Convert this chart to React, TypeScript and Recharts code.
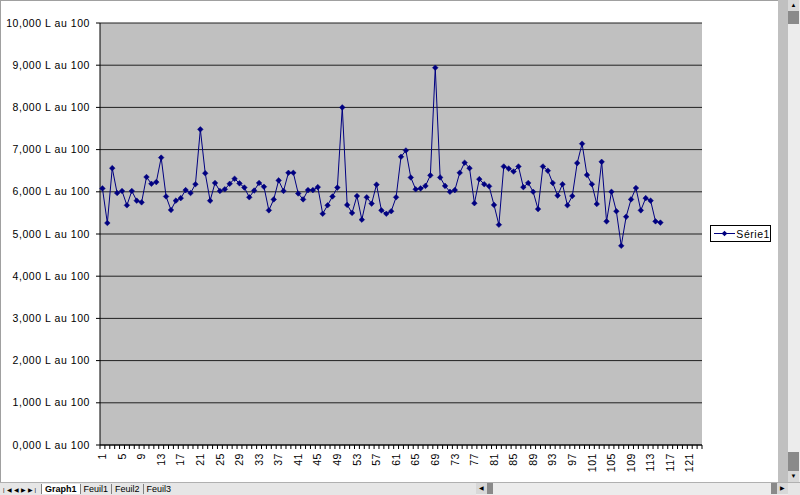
import React from "react";
import { LineChart, Line, XAxis, YAxis, CartesianGrid, Legend } from "recharts";

// consumption per row (L au 100 x 1000)
const SERIES_NAME = "Série1";
const VALUES = [
  6080, 5260, 6560, 5970, 6020, 5680, 6020, 5790, 5750, 6350,
  6190, 6230, 6810, 5890, 5570, 5790, 5850, 6040, 5970, 6180,
  7480, 6440, 5790, 6210, 6020, 6060, 6190, 6310, 6200, 6100,
  5870, 6030, 6210, 6120, 5560, 5820, 6270, 6020, 6450, 6450,
  5960, 5820, 6040, 6040, 6110, 5480, 5680, 5890, 6100, 8000,
  5690, 5500, 5900, 5340, 5870, 5720, 6170, 5560, 5480, 5540,
  5870, 6830, 6980, 6340, 6060, 6080, 6140, 6390, 8940, 6340,
  6140, 6000, 6040, 6450, 6690, 6560, 5730, 6300, 6180, 6130,
  5690, 5220, 6600, 6550, 6480, 6600, 6110, 6210, 6000, 5590,
  6600, 6500, 6210, 5910, 6180, 5680, 5900, 6680, 7140, 6400,
  6180, 5710, 6710, 5300, 6000, 5540, 4720, 5410, 5820, 6090,
  5560, 5850, 5790, 5300, 5270,
];
const CATEGORY_COUNT = 123;
const CATEGORIES = Array.from({ length: CATEGORY_COUNT }, (_, i) => i + 1);
const Y_TICKS = [0, 1000, 2000, 3000, 4000, 5000, 6000, 7000, 8000, 9000, 10000];
const SHEET_TABS = ["Graph1", "Feuil1", "Feuil2", "Feuil3"];

const data = CATEGORIES.map((c, i) => ({
  cat: c,
  value: i < VALUES.length ? VALUES[i] : null,
}));

const FONT = "'Liberation Sans', Arial, sans-serif";
const NAVY = "#000080";
const LABEL_SIZE = 10.5;
const LABEL_SPACING = 0.55;

const fmtY = (v: number) => (v / 1000).toFixed(3).replace(".", ",") + " L au 100";

const Diamond = (props: any) => {
  const { cx, cy, index } = props;
  if (cx == null || cy == null) return <g key={`d-${index}`} />;
  const r = 2.8;
  return (
    <polygon
      key={`d-${index}`}
      points={`${cx},${cy - r} ${cx + r},${cy} ${cx},${cy + r} ${cx - r},${cy}`}
      fill={NAVY}
      stroke={NAVY}
      strokeWidth={0.5}
    />
  );
};

const YTick = (props: any) => {
  const { x, y, payload } = props;
  return (
    <text
      x={x}
      y={y}
      dy="0.35em"
      textAnchor="end"
      fontSize={LABEL_SIZE}
      letterSpacing={LABEL_SPACING}
      fontFamily={FONT}
      fill="#000"
    >
      {fmtY(payload.value)}
    </text>
  );
};

const CatTick = (props: any) => {
  const { x, y, payload, index } = props;
  const half = payload?.offset ?? 602 / CATEGORY_COUNT / 2;
  const showLabel = index % 4 === 0;
  return (
    <g>
      <line x1={x - half} x2={x - half} y1={y} y2={y + 4} stroke="#000" />
      {index === CATEGORY_COUNT - 1 && (
        <line x1={x + half} x2={x + half} y1={y} y2={y + 4} stroke="#000" />
      )}
      {showLabel && (
        <text
          x={x}
          y={y + 8}
          transform={`rotate(-90, ${x}, ${y + 8})`}
          textAnchor="end"
          dy="0.35em"
          fontSize={LABEL_SIZE}
          letterSpacing={LABEL_SPACING}
          fontFamily={FONT}
          fill="#000"
        >
          {payload.value}
        </text>
      )}
    </g>
  );
};

const LegendBox = () => (
  <div
    style={{
      width: 59,
      height: 15,
      border: "1px solid #000",
      background: "#fff",
      display: "flex",
      alignItems: "center",
      fontFamily: FONT,
      fontSize: LABEL_SIZE,
      letterSpacing: LABEL_SPACING,
      color: "#000",
    }}
  >
    <svg width={27} height={15}>
      <line x1={3} x2={24} y1={7.5} y2={7.5} stroke={NAVY} />
      <polygon points="13.5,4.7 16.3,7.5 13.5,10.3 10.7,7.5" fill={NAVY} />
    </svg>
    <span>{SERIES_NAME}</span>
  </div>
);

const Arrow = ({ dir }: { dir: string }) => (
  <div
    style={{
      width: 11,
      height: 11,
      background: "#d8d8d8",
      fontSize: 6,
      lineHeight: "11px",
      textAlign: "center",
      color: "#000",
      fontFamily: FONT,
    }}
  >
    {dir}
  </div>
);

export default function App() {
  return (
    <div
      style={{
        position: "absolute",
        left: 0,
        top: 0,
        width: 800,
        height: 495,
        background: "#fff",
        overflow: "hidden",
        fontFamily: FONT,
      }}
    >
      <div style={{ position: "absolute", left: 0, top: 0, width: 778, height: 482, borderTop: "1px solid #a0a0a0", borderLeft: "1px solid #a0a0a0", boxSizing: "border-box" }} />
      <div style={{ position: "absolute", left: 0, top: 0 }}>
        <LineChart width={778} height={482} data={data} margin={{ top: 23, right: 76, bottom: 0, left: 0 }}>
          <CartesianGrid vertical={false} stroke="#202020" fill="#c0c0c0" fillOpacity={1} />
          <XAxis
            dataKey="cat"
            scale="band"
            interval={0}
            height={37}
            tickSize={0}
            tickMargin={0}
            tickLine={false}
            axisLine={{ stroke: "#000" }}
            tick={<CatTick />}
          />
          <YAxis
            domain={[0, 10000]}
            ticks={Y_TICKS}
            width={100}
            tickSize={4}
            tickMargin={6}
            tickLine={{ stroke: "#000" }}
            axisLine={{ stroke: "#000" }}
            tick={<YTick />}
            interval={0}
          />
          <Legend
            layout="horizontal"
            align="center"
            verticalAlign="middle"
            wrapperStyle={{ left: 710, top: 225, width: 61, height: 17 }}
            content={() => <LegendBox />}
          />
          <Line
            type="linear"
            dataKey="value"
            name={SERIES_NAME}
            stroke={NAVY}
            strokeWidth={1}
            dot={<Diamond />}
            activeDot={false}
            isAnimationActive={false}
          />
        </LineChart>
      </div>

      {/* window chrome: right scroll strip */}
      <div style={{ position: "absolute", left: 778, top: 0, width: 10, height: 482, background: "#c0c0c0" }} />
      <div style={{ position: "absolute", left: 788, top: 0, width: 12, height: 482, background: "#ececec" }}>
        <Arrow dir="▲" />
        <div style={{ width: 11, height: 13, background: "#8a8a8a" }} />
        <div style={{ position: "absolute", top: 452, width: 11, height: 19, background: "#8a8a8a" }} />
        <div style={{ position: "absolute", top: 471 }}>
          <Arrow dir="▼" />
        </div>
      </div>

      {/* bottom sheet tabs + horizontal scroll */}
      <div style={{ position: "absolute", left: 0, top: 482, width: 800, height: 13, background: "#e6e6e6", borderTop: "1px solid #b0b0b0", boxSizing: "border-box", display: "flex", alignItems: "center", fontSize: 9, color: "#000" }}>
        <span style={{ width: 38, letterSpacing: 2, paddingLeft: 3, fontSize: 6 }}>|◀◀▶▶|</span>
        {SHEET_TABS.map((t, i) => (
          <span
            key={t}
            style={{
              padding: "0 3px",
              borderLeft: "1px solid #808080",
              fontWeight: i === 0 ? "bold" : "normal",
              background: i === 0 ? "#fff" : "transparent",
            }}
          >
            {t}
          </span>
        ))}
      </div>
      <div style={{ position: "absolute", left: 476, top: 483, width: 312, height: 12, background: "#ececec", display: "flex" }}>
        <Arrow dir="◀" />
        <div style={{ width: 6, height: 11, background: "#8a8a8a" }} />
        <div style={{ flex: 1 }} />
        <div style={{ width: 6, height: 11, background: "#8a8a8a" }} />
        <Arrow dir="▶" />
      </div>
    </div>
  );
}
